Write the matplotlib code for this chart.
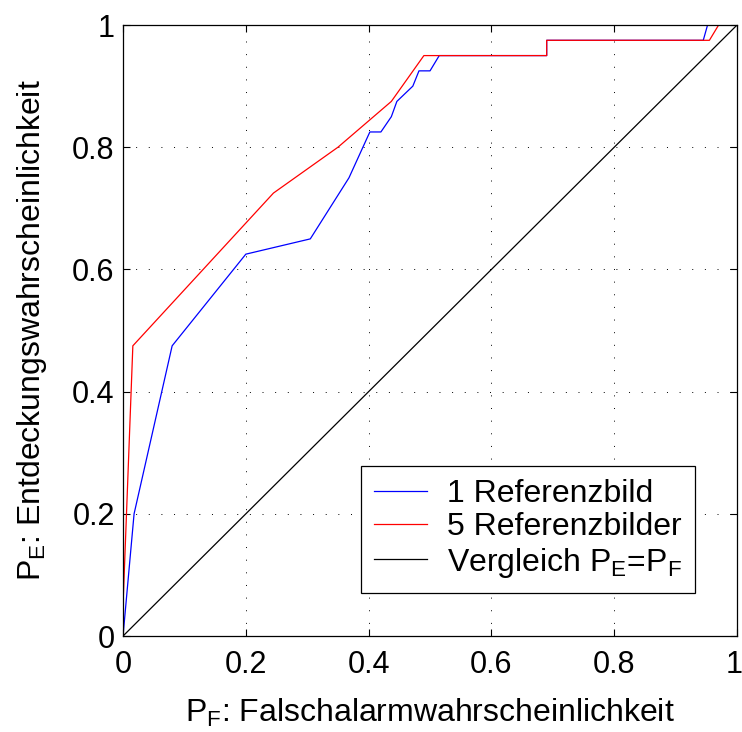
import matplotlib
matplotlib.use("Agg")
import matplotlib.pyplot as plt
import matplotlib.transforms as mtransforms

plt.rcParams['font.family'] = ['Liberation Sans', 'DejaVu Sans']
plt.rcParams['mathtext.fontset'] = 'custom'
plt.rcParams['mathtext.rm'] = 'Liberation Sans'
plt.rcParams['mathtext.it'] = 'Liberation Sans'

# ROC curves: false alarm rate vs. detection rate
pf_one = [0, 0.018, 0.08, 0.2, 0.305, 0.368, 0.402, 0.42, 0.437, 0.446, 0.472,
          0.482, 0.5, 0.515, 0.69, 0.69, 0.945, 0.952, 1.0]
pe_one = [0, 0.2, 0.475, 0.625, 0.65, 0.75, 0.825, 0.825, 0.85, 0.875, 0.9,
          0.925, 0.925, 0.95, 0.95, 0.975, 0.975, 1.0, 1.0]

pf_five = [0, 0, 0.016, 0.245, 0.35, 0.437, 0.49, 0.69, 0.69, 0.955, 0.97, 1.0]
pe_five = [0, 0.05, 0.475, 0.725, 0.8, 0.875, 0.95, 0.95, 0.975, 0.975, 1.0, 1.0]

diag = [0, 1]

ticks = [0, 0.2, 0.4, 0.6, 0.8, 1]
tick_labels = ['0', '0.2', '0.4', '0.6', '0.8', '1']

fig = plt.figure(figsize=(7.42, 7.32), dpi=100)
ax = fig.add_axes([0.1658, 0.1311, 0.8275, 0.8347])

ax.plot(pf_one, pe_one, color='#0000ff', lw=0.9, label='1 Referenzbild')
ax.plot(pf_five, pe_five, color='#ff0000', lw=0.9, label='5 Referenzbilder')
ax.plot(diag, diag, color='black', lw=0.9, label=r'Vergleich P$_\mathrm{E}$=P$_\mathrm{F}$')

ax.set_xlim(0, 1)
ax.set_ylim(0, 1)
ax.set_xticks(ticks)
ax.set_yticks(ticks)
ax.set_xticklabels(tick_labels)
ax.set_yticklabels(tick_labels)
ax.tick_params(direction='in', length=5, width=0.8, top=True, right=True,
               labelsize=22)
ax.tick_params(axis='x', pad=10)
ax.tick_params(axis='y', pad=6)
for s in ax.spines.values():
    s.set_linewidth(0.9)
ax.grid(True, color='black', linestyle=(0, (1, 12)), linewidth=0.7)

# nudge the last x tick label so it stays inside the figure
last = ax.get_xticklabels()[-1]
last.set_transform(last.get_transform() +
                   mtransforms.ScaledTranslation(-3 / 100, 0, fig.dpi_scale_trans))

ax.set_xlabel(r'P$_\mathrm{F}$: Falschalarmwahrscheinlichkeit', fontsize=23, labelpad=12)
ax.set_ylabel(r'P$_\mathrm{E}$: Entdeckungswahrscheinlichkeit', fontsize=23, labelpad=17)

leg = ax.legend(loc='lower right', bbox_to_anchor=(0.932, 0.0705), borderaxespad=0,
                fontsize=23, fancybox=False, edgecolor='black', framealpha=1,
                handlelength=1.65, handletextpad=0.63, labelspacing=0.1,
                borderpad=0.42)
leg.get_frame().set_linewidth(0.9)

fig.savefig('out.png', dpi=100)
